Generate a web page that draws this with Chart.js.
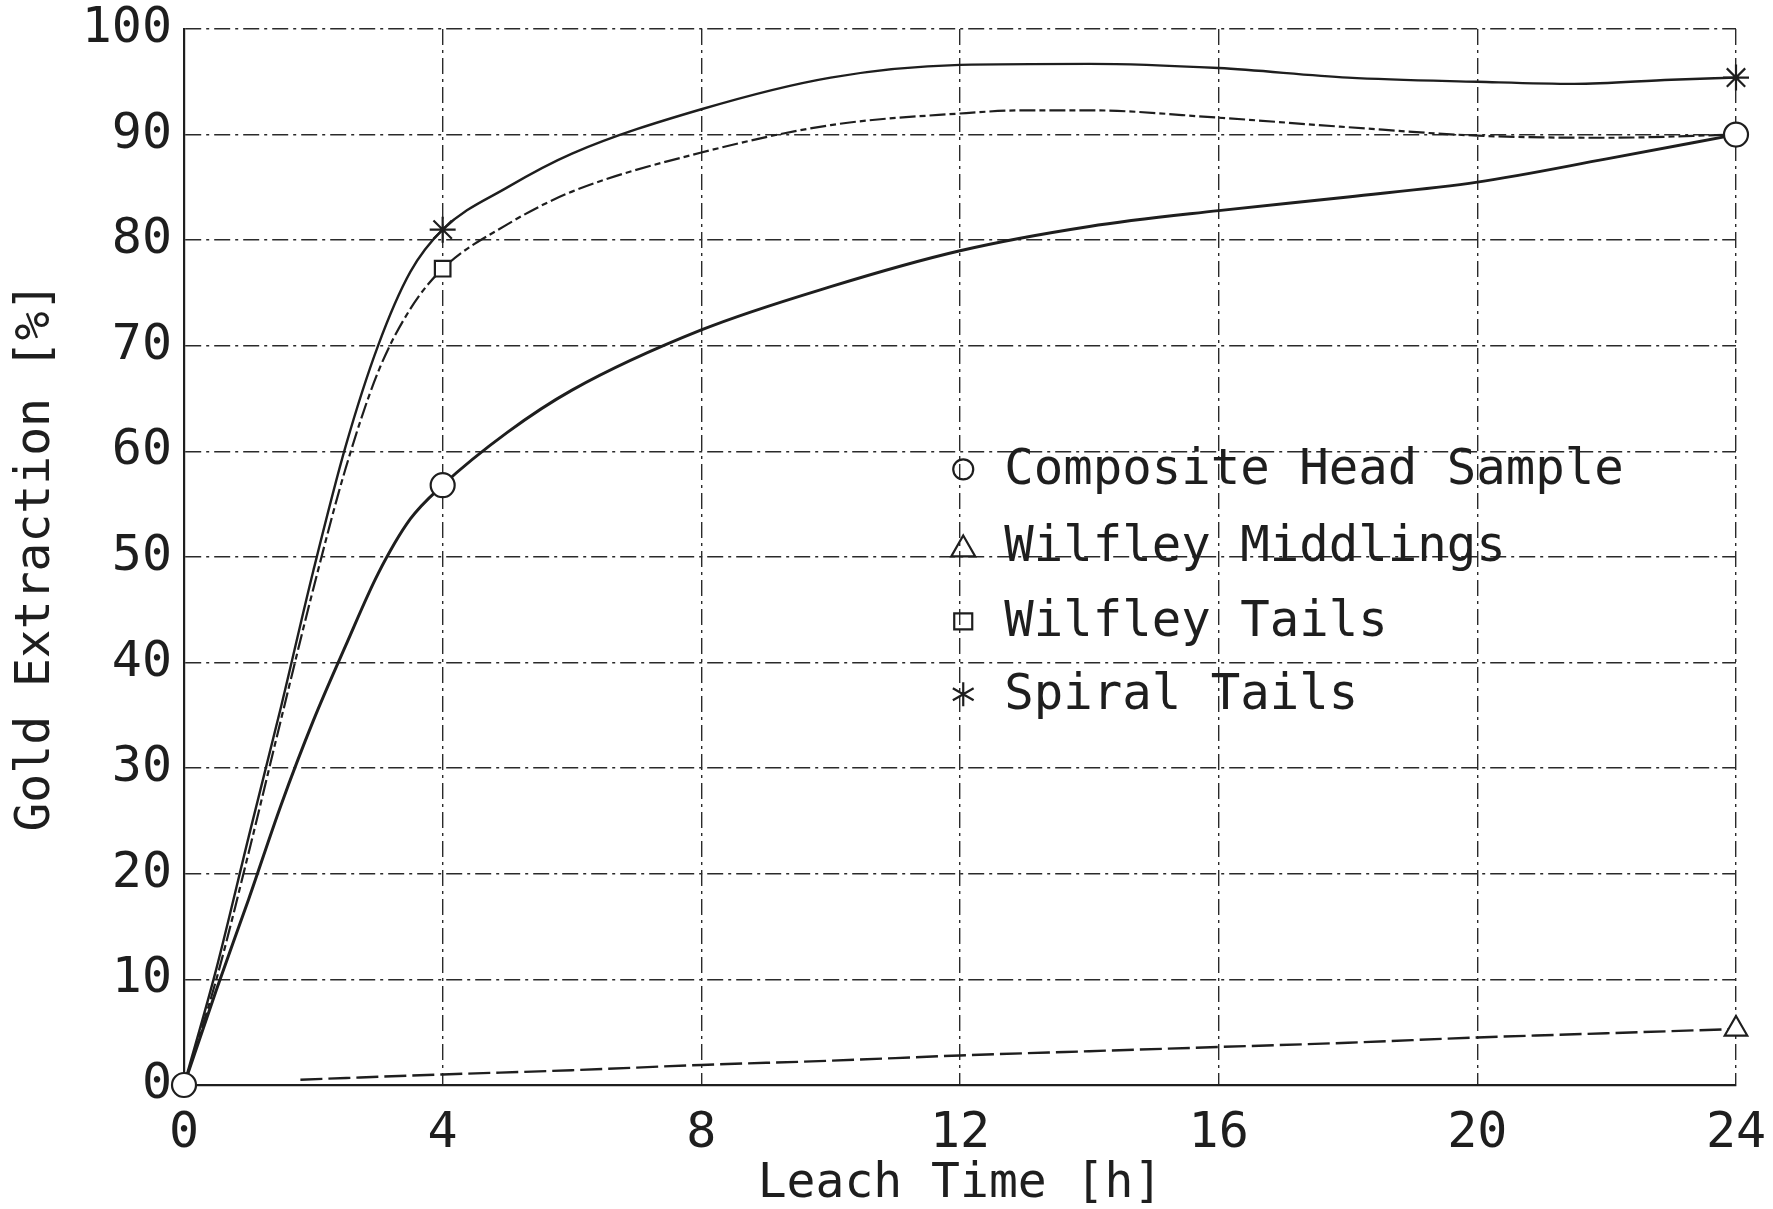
<!DOCTYPE html>
<html>
<head>
<meta charset="utf-8">
<script src="https://cdn.jsdelivr.net/npm/chart.js@4/dist/chart.umd.min.js"></script>
<style>
  html, body { margin: 0; padding: 0; background: #fff; }
  #wrap { width: 1773px; height: 1209px; }
</style>
</head>
<body>
<div id="wrap"><canvas id="chart" width="1773" height="1209"></canvas></div>
<script>
// ticks
const xTicks = [0, 4, 8, 12, 16, 20, 24];
const yTicks = [0, 10, 20, 30, 40, 50, 60, 70, 80, 90, 100];

// Composite Head Sample (o)
const compositeHours = [0, 0.5, 1, 1.5, 2, 2.5, 3, 3.5, 4, 5, 6, 8, 10, 12, 14, 16, 18, 20, 22, 24];
const compositePct = [0, 9, 17.6, 26.5, 34.5, 41.6, 48.4, 53.6, 56.8, 61.8, 65.8, 71.5, 75.6, 79.0, 81.3, 82.8, 84.1, 85.5, 87.7, 90.0];
const compositeMarks = [0, 4, 24];

// Wilfley Middlings (triangle)
const middlingsHours = [1.8, 4, 6, 8, 10, 12, 14, 16, 18, 20, 22, 24];
const middlingsPct = [0.5, 1.0, 1.4, 1.9, 2.3, 2.8, 3.2, 3.6, 4.0, 4.5, 4.9, 5.3];
const middlingsMarks = [24];

// Wilfley Tails (square)
const tailsHours = [0, 0.5, 1, 1.5, 2, 2.5, 3, 3.5, 4, 5, 6, 8, 10, 12, 13, 14, 16, 18, 20, 22, 24];
const tailsPct = [0, 10, 22, 34.6, 47, 58.4, 67.5, 73.5, 77.3, 81.5, 84.6, 88.3, 90.9, 92.0, 92.3, 92.3, 91.6, 90.7, 89.9, 89.7, 90.0];
const tailsMarks = [4, 24];

// Spiral Tails (asterisk)
const spiralHours = [0, 0.5, 1, 1.5, 2, 2.5, 3, 3.5, 4, 5, 6, 8, 10, 12, 14, 16, 18, 20, 21.5, 23, 24];
const spiralPct = [0, 11, 23.5, 35.8, 48.7, 60.5, 70, 77, 81, 85, 88.2, 92.4, 95.4, 96.6, 96.7, 96.3, 95.4, 95.0, 94.8, 95.2, 95.4];
const spiralMarks = [4, 24];

const INK = '#1e1e1e';
const FONT = "'DejaVu Sans Mono', monospace";

function pts(hours, vals) {
  return hours.map((h, i) => ({ x: h, y: vals[i] }));
}

function series(label, hours, vals, marks, style, radius, dash, width) {
  return {
    label: label,
    data: pts(hours, vals),
    clip: false,
    borderColor: INK,
    borderWidth: width,
    borderDash: dash,
    cubicInterpolationMode: 'monotone',
    pointStyle: style,
    pointRadius: (c) => (c.raw && marks.includes(c.raw.x) ? radius : 0),
    pointHoverRadius: 0,
    pointBackgroundColor: '#fff',
    pointBorderColor: INK,
    pointBorderWidth: 2.2,
  };
}

// legend drawn inside the plot, symbols sit on the 12 h line
const legendRows = [
  { text: 'Composite Head Sample', style: 'circle', y: 58.3 },
  { text: 'Wilfley Middlings', style: 'triangle', y: 51.0 },
  { text: 'Wilfley Tails', style: 'rect', y: 43.9 },
  { text: 'Spiral Tails', style: 'star', y: 37.0 },
];

function drawSymbol(ctx, style, x, y) {
  ctx.save();
  ctx.strokeStyle = INK;
  ctx.lineWidth = 2.2;
  ctx.beginPath();
  if (style === 'circle') {
    ctx.arc(x, y, 10, 0, Math.PI * 2);
  } else if (style === 'triangle') {
    ctx.moveTo(x, y - 11);
    ctx.lineTo(x + 12, y + 10);
    ctx.lineTo(x - 12, y + 10);
    ctx.closePath();
  } else if (style === 'rect') {
    ctx.rect(x - 9, y - 8, 18, 16);
  } else {
    for (let k = 0; k < 3; k++) {
      const a = Math.PI / 2 + k * Math.PI / 3;
      ctx.moveTo(x - 12 * Math.cos(a), y - 12 * Math.sin(a));
      ctx.lineTo(x + 12 * Math.cos(a), y + 12 * Math.sin(a));
    }
  }
  ctx.stroke();
  ctx.restore();
}

const legendPlugin = {
  id: 'plotLegend',
  afterDatasetsDraw(chart) {
    const ctx = chart.ctx;
    const xs = chart.scales.x;
    const ys = chart.scales.y;
    const sx = xs.getPixelForValue(12.05);
    ctx.save();
    ctx.fillStyle = INK;
    ctx.font = '49px ' + FONT;
    ctx.textBaseline = 'middle';
    legendRows.forEach((row) => {
      const py = ys.getPixelForValue(row.y);
      drawSymbol(ctx, row.style, sx, py);
      ctx.fillText(row.text, sx + 41, py + 2);
    });
    ctx.restore();
  },
};

const gridOpts = {
  color: '#2a2a2a',
  lineWidth: 1.4,
  drawTicks: false,
};

const chart = new Chart(document.getElementById('chart'), {
  type: 'line',
  data: {
    datasets: [
      series('Composite Head Sample', compositeHours, compositePct, compositeMarks, 'circle', 12, [], 3),
      series('Wilfley Middlings', middlingsHours, middlingsPct, middlingsMarks, 'triangle', 13, [22, 6], 2.4),
      series('Wilfley Tails', tailsHours, tailsPct, tailsMarks, 'rect', 11, [16, 4, 6, 4], 2.2),
      series('Spiral Tails', spiralHours, spiralPct, spiralMarks, 'star', 13, [], 2.4),
    ],
  },
  options: {
    responsive: false,
    animation: false,
    devicePixelRatio: 1,
    layout: { padding: { top: 29, right: 37, bottom: 0, left: 0 } },
    plugins: {
      legend: { display: false },
      tooltip: { enabled: false },
    },
    scales: {
      x: {
        type: 'linear',
        min: 0,
        max: 24,
        afterBuildTicks: (s) => { s.ticks = xTicks.map((v) => ({ value: v })); },
        afterFit: (s) => { s.height = 124; s.paddingLeft = 20; s.paddingRight = 30; },
        grid: gridOpts,
        border: { color: INK, width: 2.2, dash: [16, 5, 3, 5] },
        ticks: {
          color: INK,
          padding: 24,
          maxRotation: 0,
          font: { family: FONT, size: 50, lineHeight: 1 },
        },
        title: {
          display: true,
          text: 'Leach Time [h]',
          color: INK,
          padding: { top: 0, bottom: 0 },
          font: { family: FONT, size: 48, lineHeight: 1 },
        },
      },
      y: {
        min: 0,
        max: 100,
        afterBuildTicks: (s) => { s.ticks = yTicks.map((v) => ({ value: v })); },
        afterFit: (s) => { s.width = 184; s.paddingTop = 25; s.paddingBottom = 25; },
        grid: gridOpts,
        border: { color: INK, width: 2.2, dash: [16, 5, 3, 5] },
        ticks: {
          color: INK,
          padding: 12,
          font: { family: FONT, size: 50, lineHeight: 1 },
        },
        title: {
          display: true,
          text: 'Gold Extraction [%]',
          color: INK,
          padding: { top: 13, bottom: 0 },
          font: { family: FONT, size: 48, lineHeight: 1 },
        },
      },
    },
  },
  plugins: [legendPlugin],
});
</script>
</body>
</html>
